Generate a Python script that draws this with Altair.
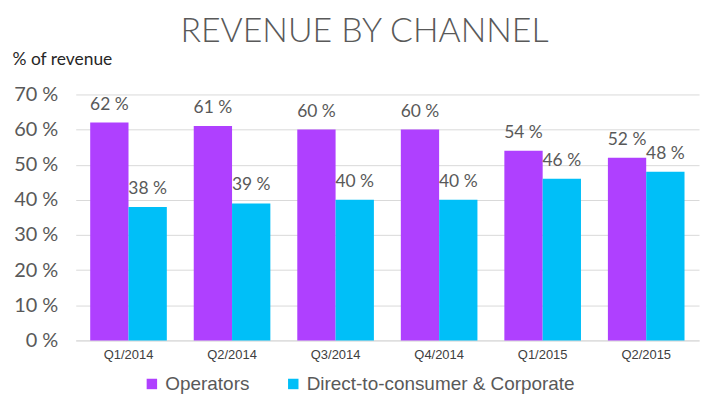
import altair as alt
import pandas as pd

quarters = ["Q1/2014", "Q2/2014", "Q3/2014", "Q4/2014", "Q1/2015", "Q2/2015"]
operators = [62, 61, 60, 60, 54, 52]
direct = [38, 39, 40, 40, 46, 48]
channels = ["Operators", "Direct-to-consumer & Corporate"]
colors = ["#AF40FF", "#00BFF8"]

rows = []
for q, o, d in zip(quarters, operators, direct):
    rows.append({"Quarter": q, "Channel": channels[0], "Value": o, "Label": f"{o} %"})
    rows.append({"Quarter": q, "Channel": channels[1], "Value": d, "Label": f"{d} %"})
df = pd.DataFrame(rows)

x = alt.X("Quarter:N", sort=quarters,
          scale=alt.Scale(paddingInner=0.26, paddingOuter=0.14),
          axis=alt.Axis(title=None, labelAngle=0, labelFont="Liberation Sans", labelFontSize=13,
                        labelColor="#404040", labelPadding=8, ticks=False, domain=True,
                        domainColor="#d9d9d9", grid=False))
xo = alt.XOffset("Channel:N", sort=channels, scale=alt.Scale(domain=channels, paddingInner=0, paddingOuter=0))
y = alt.Y("Value:Q", scale=alt.Scale(domain=[0, 70]),
          axis=alt.Axis(values=[0, 10, 20, 30, 40, 50, 60, 70], labelExpr="datum.value + ' %'",
                        labelOverlap=False, tickCount=8,
                        title="% of revenue", titleAngle=0, titleAlign="left", titleBaseline="bottom",
                        titleX=-64, titleY=-26, titleFont="Lato", titleFontSize=17.5,
                        titleFontWeight="normal", titleColor="#262626",
                        labelFont="Lato", labelFontSize=20, labelColor="#595959", labelPadding=18,
                        ticks=False, domain=False, gridColor="#d9d9d9"))

bars = alt.Chart(df).mark_bar().encode(
    x=x, xOffset=xo, y=y,
    color=alt.Color("Channel:N", sort=channels,
                    scale=alt.Scale(domain=channels, range=colors),
                    legend=alt.Legend(title=None, orient="none", direction="horizontal",
                                      legendX=67, legendY=281, symbolType="square",
                                      symbolSize=110, symbolStrokeWidth=0, labelFont="Liberation Sans",
                                      labelFontSize=19, labelColor="#595959", columnPadding=34,
                                      labelOffset=4, labelLimit=0)),
)

labels = alt.Chart(df).mark_text(baseline="bottom", dy=-9, font="Lato", fontSize=17.5, color="#595959").encode(
    x=x, xOffset=xo, y=y, text="Label:N"
)

chart = alt.layer(bars, labels).properties(
    width=626, height=247,
    title=alt.TitleParams("REVENUE BY CHANNEL", font="Lato", fontSize=34, fontWeight=300,
                          color="#595959", anchor="middle", dx=-23, offset=2),
    padding={"left": 4, "top": 6, "right": 2, "bottom": 2},
).configure_view(stroke=None)

chart.save("out.html", embed_options={"renderer": "svg", "actions": False})
